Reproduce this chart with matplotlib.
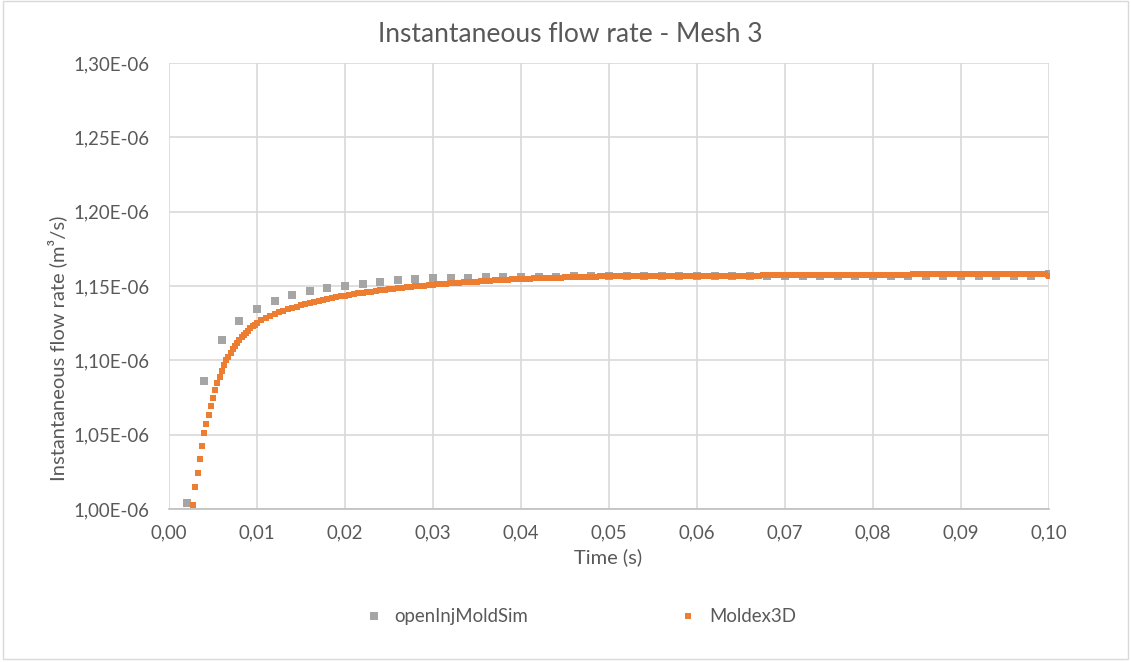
import numpy as np
import matplotlib.pyplot as plt
from matplotlib.ticker import FuncFormatter, MultipleLocator
from matplotlib.patches import Rectangle

# openInjMoldSim: one point every 2 ms (flow rate in 1e-6 m3/s)
t_oims = np.round(np.arange(0.002, 0.1001, 0.002), 4)
q_oims = [1.0040, 1.0861, 1.1137, 1.1265, 1.1345, 1.1398, 1.1441, 1.1468, 1.1488, 1.1501,
          1.1516, 1.1527, 1.1537, 1.1545, 1.1551, 1.1555, 1.1557, 1.1559, 1.1560, 1.1561,
          1.1562, 1.1563, 1.1564, 1.1564, 1.1565, 1.1565, 1.1565, 1.1565, 1.1566, 1.1566,
          1.1566, 1.1566, 1.1565, 1.1565, 1.1565, 1.1565, 1.1565, 1.1565, 1.1564, 1.1564,
          1.1564, 1.1564, 1.1564, 1.1564, 1.1564, 1.1564, 1.1564, 1.1564, 1.1564, 1.1578]

# Moldex3D: dense output, 0.25 ms up to 10 ms then 0.5 ms
t_m3d = np.round(np.concatenate([np.arange(0.00275, 0.01001, 0.00025),
                                 np.arange(0.0105, 0.10001, 0.0005)]), 5)
q_m3d = [1.0030, 1.0145, 1.0245, 1.0335, 1.0425, 1.0510, 1.0575, 1.0635, 1.0690, 1.0745,
         1.0800, 1.0850, 1.0890, 1.0930, 1.0970, 1.1000, 1.1025, 1.1050, 1.1075, 1.1095,
         1.1115, 1.1135, 1.1155, 1.1170, 1.1185, 1.1200, 1.1215, 1.1228, 1.1240, 1.1250,
         # 0.0105 - 0.0200
         1.1268, 1.1283, 1.1297, 1.1310, 1.1322, 1.1333, 1.1343, 1.1352, 1.1361, 1.1369,
         1.1377, 1.1384, 1.1391, 1.1398, 1.1404, 1.1410, 1.1418, 1.1424, 1.1430, 1.1435,
         # 0.0205 - 0.0300
         1.1440, 1.1445, 1.1450, 1.1455, 1.1459, 1.1463, 1.1467, 1.1471, 1.1475, 1.1479,
         1.1482, 1.1486, 1.1489, 1.1492, 1.1495, 1.1498, 1.1501, 1.1503, 1.1506, 1.1508,
         # 0.0305 - 0.0400
         1.1511, 1.1513, 1.1516, 1.1518, 1.1520, 1.1522, 1.1524, 1.1526, 1.1528, 1.1530,
         1.1532, 1.1534, 1.1536, 1.1538, 1.1540, 1.1541, 1.1543, 1.1545, 1.1546, 1.1548,
         # 0.0405 - 0.0500
         1.1549, 1.1550, 1.1551, 1.1552, 1.1553, 1.1554, 1.1555, 1.1556, 1.1557, 1.1558,
         1.1559, 1.1560, 1.1560, 1.1561, 1.1562, 1.1563, 1.1563, 1.1564, 1.1564, 1.1565,
         # 0.0505 - 0.0600
         1.1565, 1.1565, 1.1565, 1.1566, 1.1566, 1.1566, 1.1566, 1.1567, 1.1567, 1.1567,
         1.1567, 1.1567, 1.1568, 1.1568, 1.1568, 1.1568, 1.1568, 1.1568, 1.1568, 1.1568,
         # 0.0605 - 0.0700
         1.1568, 1.1568, 1.1569, 1.1569, 1.1569, 1.1569, 1.1569, 1.1569, 1.1569, 1.1570,
         1.1570, 1.1570, 1.1570, 1.1570, 1.1572, 1.1572, 1.1573, 1.1573, 1.1573, 1.1573,
         # 0.0705 - 0.0800
         1.1574, 1.1574, 1.1574, 1.1574, 1.1574, 1.1574, 1.1575, 1.1575, 1.1575, 1.1575,
         1.1575, 1.1575, 1.1575, 1.1575, 1.1576, 1.1576, 1.1576, 1.1576, 1.1576, 1.1576,
         # 0.0805 - 0.0900
         1.1577, 1.1577, 1.1577, 1.1577, 1.1577, 1.1577, 1.1577, 1.1577, 1.1578, 1.1578,
         1.1578, 1.1578, 1.1578, 1.1578, 1.1578, 1.1578, 1.1578, 1.1578, 1.1578, 1.1579,
         # 0.0905 - 0.1000
         1.1579, 1.1579, 1.1579, 1.1579, 1.1579, 1.1579, 1.1579, 1.1579, 1.1579, 1.1579,
         1.1579, 1.1579, 1.1579, 1.1579, 1.1579, 1.1579, 1.1579, 1.1578, 1.1578, 1.1566]

plt.rcParams['font.family'] = ['Lato', 'DejaVu Sans']
txt = '#595959'
grid = '#d9d9d9'

fig = plt.figure(figsize=(11.31, 6.62), dpi=100)
fig.patches.append(Rectangle((0.003, 0.004), 0.994, 0.994, transform=fig.transFigure,
                             fill=False, edgecolor=grid, linewidth=1))
ax = fig.add_axes([169 / 1131, 1 - 509 / 662, 880 / 1131, 446 / 662])

ax.plot(t_oims, np.array(q_oims) * 1e-6, 's', color='#a5a5a5', markersize=5.2,
        markeredgewidth=0, label='openInjMoldSim', zorder=3)
ax.plot(t_m3d, np.array(q_m3d) * 1e-6, 's', color='#ed7d31', markersize=4.4,
        markeredgewidth=0, label='Moldex3D', zorder=4)

ax.set_xlim(0, 0.10)
ax.set_ylim(1.0e-6, 1.3e-6)
ax.xaxis.set_major_locator(MultipleLocator(0.01))
ax.yaxis.set_major_locator(MultipleLocator(0.05e-6))
ax.xaxis.set_major_formatter(FuncFormatter(lambda v, p: f'{v:.2f}'.replace('.', ',')))
ax.yaxis.set_major_formatter(FuncFormatter(
    lambda v, p: f'{v * 1e6:.2f}'.replace('.', ',') + 'E-06'))

ax.grid(True, color=grid, linewidth=1.2)
ax.set_axisbelow(True)
for s in ['top', 'right', 'left']:
    ax.spines[s].set_visible(False)
ax.spines['bottom'].set_color('#bfbfbf')
ax.spines['bottom'].set_linewidth(1.2)
ax.tick_params(length=0, labelsize=13.4, labelcolor=txt)
ax.tick_params(axis='x', pad=11)
ax.tick_params(axis='y', pad=14)

# chart title is centred on the whole chart area, not on the plot area
fig.text(570 / 1131, 1 - 35 / 662, 'Instantaneous flow rate - Mesh 3', fontsize=19,
         color=txt, ha='center', va='center')
ax.set_xlabel('Time (s)', fontsize=14.5, color=txt)
ax.xaxis.set_label_coords(0.499, -0.088)
ax.set_ylabel('Instantaneous flow rate (m³/s)', fontsize=14.5, color=txt)
ax.yaxis.set_label_coords(-0.116, 0.361)

fig.legend(loc='center', bbox_to_anchor=(0.509, 0.068), ncol=2, frameon=False,
           fontsize=13.4, labelcolor=txt, columnspacing=7.6, handletextpad=0.1,
           markerscale=1.1)

fig.savefig('out.png', dpi=100)
